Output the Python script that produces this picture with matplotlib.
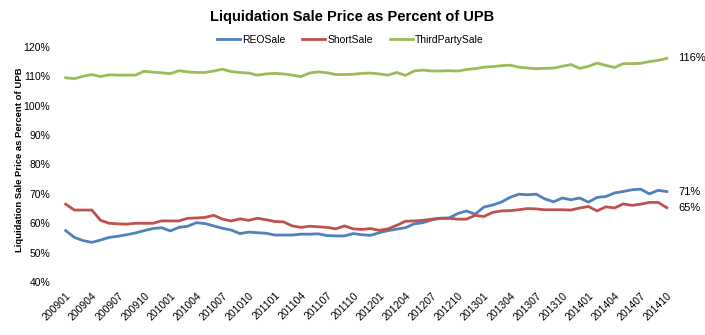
"""
Liquidation sale price as percent of UPB, monthly 2009-2014.
"""

import matplotlib
matplotlib.use("Agg")
import matplotlib.pyplot as plt
from matplotlib.ticker import FuncFormatter

plt.rcParams["font.family"] = ["Liberation Sans", "DejaVu Sans"]

# months 200901 .. 201410
months = [f"{2009 + i // 12}{i % 12 + 1:02d}" for i in range(70)]

reo_sale = [
    57.5, 55.2, 54.1, 53.5, 54.3, 55.2, 55.6, 56.1, 56.7, 57.5,
    58.2, 58.5, 57.4, 58.6, 59.0, 60.2, 59.9, 59.1, 58.3, 57.7,
    56.5, 57.0, 56.8, 56.6, 56.0, 56.0, 56.0, 56.3, 56.3, 56.4,
    55.8, 55.7, 55.7, 56.5, 56.1, 55.9, 56.8, 57.5, 58.0, 58.5,
    59.8, 60.2, 61.1, 61.7, 61.8, 63.3, 64.2, 63.1, 65.5, 66.2,
    67.2, 68.8, 69.9, 69.7, 69.9, 68.3, 67.3, 68.6, 68.0, 68.6,
    67.2, 68.8, 69.1, 70.3, 70.8, 71.4, 71.6, 70.0, 71.2, 70.8,
]
short_sale = [
    66.5, 64.5, 64.5, 64.5, 61.0, 60.0, 59.8, 59.7, 60.0, 60.0,
    60.0, 60.8, 60.8, 60.8, 61.7, 61.8, 62.0, 62.7, 61.4, 60.8,
    61.5, 61.0, 61.7, 61.2, 60.6, 60.5, 59.1, 58.6, 59.0, 58.8,
    58.6, 58.1, 59.1, 58.1, 57.9, 58.2, 57.6, 58.1, 59.3, 60.7,
    60.8, 61.0, 61.4, 61.7, 61.7, 61.4, 61.4, 62.7, 62.3, 63.7,
    64.2, 64.3, 64.6, 65.0, 64.9, 64.6, 64.6, 64.6, 64.5, 65.2,
    65.7, 64.2, 65.6, 65.2, 66.6, 66.1, 66.5, 67.1, 67.1, 65.3,
]
third_party_sale = [
    109.5, 109.2, 110.0, 110.6, 109.9, 110.5, 110.4, 110.4, 110.4, 111.7,
    111.4, 111.2, 110.9, 111.9, 111.5, 111.3, 111.3, 111.8, 112.4, 111.6,
    111.3, 111.1, 110.4, 110.8, 111.0, 110.8, 110.4, 109.9, 111.1, 111.5,
    111.2, 110.6, 110.6, 110.7, 111.0, 111.1, 110.8, 110.4, 111.3, 110.3,
    111.8, 112.1, 111.8, 111.8, 111.9, 111.8, 112.3, 112.6, 113.1, 113.3,
    113.6, 113.8, 113.1, 112.8, 112.6, 112.7, 112.8, 113.4, 114.0, 112.7,
    113.4, 114.5, 113.7, 113.0, 114.3, 114.3, 114.4, 115.0, 115.4, 116.1,
]

series = [
    ("REOSale", reo_sale, "#4F81BD"),
    ("ShortSale", short_sale, "#C0504D"),
    ("ThirdPartySale", third_party_sale, "#9BBB59"),
]

fig = plt.figure(figsize=(7.05, 3.35), dpi=100)
ax = fig.add_axes([0.087, 0.158, 0.865, 0.702])

x = list(range(len(months)))
for name, values, color in series:
    ax.plot(x, values, color=color, linewidth=2.0, label=name)
    ax.annotate(f"{values[-1]:.0f}%", xy=(x[-1], values[-1]),
                xytext=(8, 0), textcoords="offset points",
                va="center", ha="left", fontsize=8)

ax.set_xlim(-0.5, len(months) - 0.5)
ax.set_ylim(40, 120)
ax.set_yticks(range(40, 121, 10))
ax.yaxis.set_major_formatter(FuncFormatter(lambda v, _: f"{v:.0f}%"))
ax.set_xticks(x[::3])
ax.set_xticklabels(months[::3], rotation=45, ha="right",
                   rotation_mode="anchor", fontsize=7.5)
ax.tick_params(axis="y", labelsize=7.5, length=0, pad=8)
ax.tick_params(axis="x", length=0, pad=6)
for s in ax.spines.values():
    s.set_visible(False)

ax.set_ylabel("Liquidation Sale Price as Percent of UPB",
              fontsize=6.8, fontweight="bold", labelpad=4)
ax.yaxis.set_label_coords(-0.062, 0.52)
fig.text(0.5, 0.948, "Liquidation Sale Price as Percent of UPB",
         ha="center", va="center", fontsize=10.5, fontweight="bold")
fig.legend(loc="center", bbox_to_anchor=(0.497, 0.882), ncol=3,
           frameon=False, fontsize=7.5, handlelength=2.2,
           handletextpad=0.2, columnspacing=1.6)

fig.savefig("out.png", dpi=100)
